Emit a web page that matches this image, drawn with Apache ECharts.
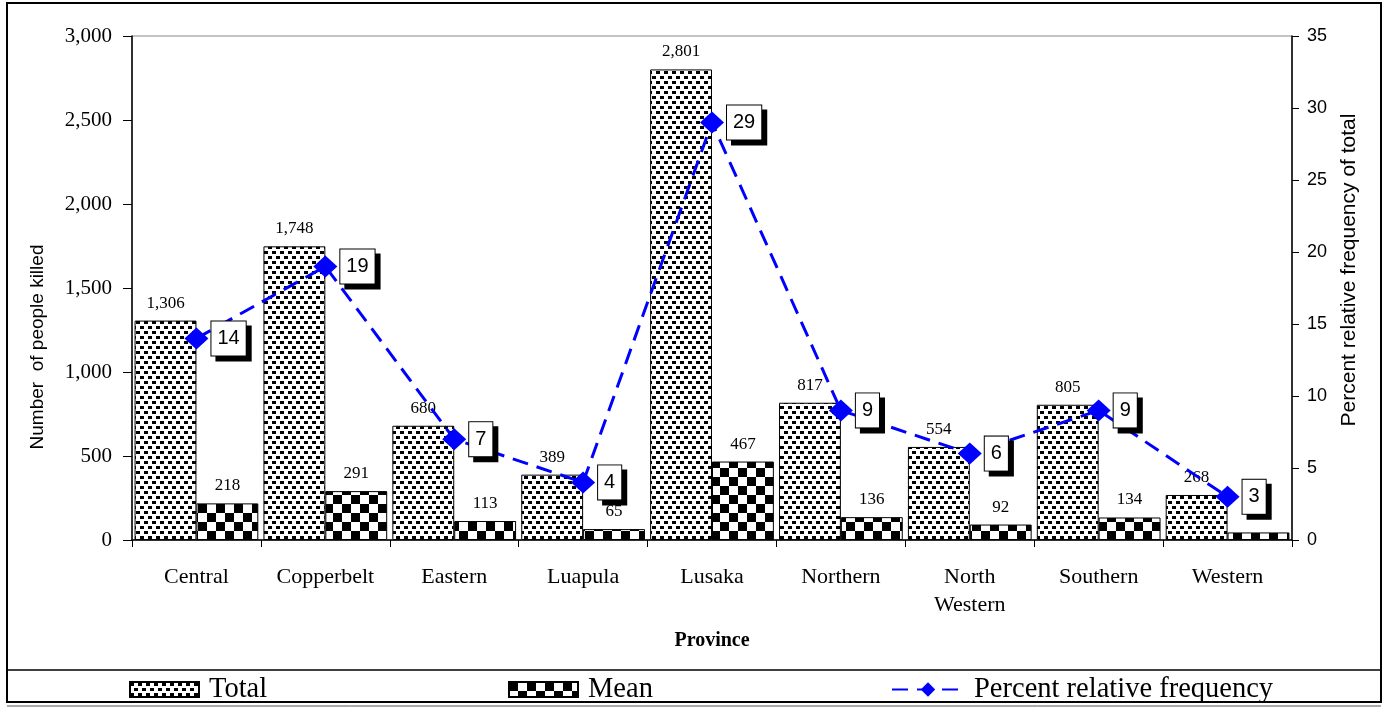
<!DOCTYPE html>
<html>
<head>
<meta charset="utf-8">
<title>People killed by province</title>
<script src="https://cdn.jsdelivr.net/npm/echarts@6/dist/echarts.min.js"></script>
<style>
  html, body { margin: 0; padding: 0; background: #fff; }
  #chart { width: 1388px; height: 708px; }
</style>
</head>
<body>
<div id="chart"></div>
<script>
// data
const provinces = ['Central', 'Copperbelt', 'Eastern', 'Luapula', 'Lusaka', 'Northern', 'North\nWestern', 'Southern', 'Western']
const totalKilled = [1306, 1748, 680, 389, 2801, 817, 554, 805, 268]
const meanKilled = [218, 291, 113, 65, 467, 136, 92, 134, 45]
const percentFreq = [14, 19, 7, 4, 29, 9, 6, 9, 3]
const leftTicks = [0, 500, 1000, 1500, 2000, 2500, 3000]
const rightTicks = [0, 5, 10, 15, 20, 25, 30, 35]

// fill patterns like the old excel ones
function dotPattern() {
  const c = document.createElement('canvas')
  c.width = 8
  c.height = 10
  const ctx = c.getContext('2d')
  ctx.fillStyle = '#fff'
  ctx.fillRect(0, 0, 8, 10)
  ctx.fillStyle = '#000'
  ctx.fillRect(0, 1, 4, 3)
  ctx.fillRect(4, 6, 4, 3)
  return c
}
function checkPattern() {
  const c = document.createElement('canvas')
  c.width = 18
  c.height = 18
  const ctx = c.getContext('2d')
  ctx.fillStyle = '#fff'
  ctx.fillRect(0, 0, 18, 18)
  ctx.fillStyle = '#000'
  ctx.fillRect(0, 0, 9, 9)
  ctx.fillRect(9, 9, 9, 9)
  return c
}

const serif = '"Liberation Serif", "Times New Roman", serif'
const sans = '"Liberation Sans", Arial, sans-serif'

const chart = echarts.init(document.getElementById('chart'))

const legendText = { fontFamily: serif, fontSize: 28.5, color: '#000', padding: [0, 0, 0, 5] }

const option = {
  animation: false,
  backgroundColor: '#fff',
  grid: {
    left: 132,
    right: 96,
    top: 36,
    bottom: 168,
    show: true,
    borderColor: '#888',
    borderWidth: 1
  },
  legend: [
    {
      data: ['Total'],
      left: 129,
      top: 675,
      padding: 0,
      icon: 'rect',
      itemWidth: 69,
      itemHeight: 15,
      textStyle: legendText
    },
    {
      data: ['Mean'],
      left: 508,
      top: 675,
      padding: 0,
      icon: 'rect',
      itemWidth: 69,
      itemHeight: 15,
      textStyle: legendText
    },
    {
      data: ['Percent relative frequency'],
      left: 891,
      top: 675,
      padding: 0,
      itemWidth: 72,
      itemHeight: 18,
      textStyle: legendText
    }
  ],
  xAxis: {
    type: 'category',
    data: provinces,
    name: 'Province',
    nameLocation: 'middle',
    nameGap: 91,
    nameTextStyle: { fontFamily: serif, fontSize: 20, fontWeight: 'bold', color: '#000' },
    axisLine: { lineStyle: { color: '#000', width: 1.5 } },
    axisTick: { show: true, length: 7, lineStyle: { color: '#000' } },
    axisLabel: {
      margin: 23,
      fontFamily: serif,
      fontSize: 22,
      lineHeight: 28,
      color: '#000',
      interval: 0
    }
  },
  yAxis: [
    {
      type: 'value',
      min: 0,
      max: 3000,
      interval: 500,
      name: 'Number  of people killed',
      nameLocation: 'middle',
      nameGap: 85,
      nameRotate: 90,
      nameTextStyle: { fontFamily: sans, fontSize: 19, color: '#000', padding: [0, 118, 0, 0] },
      axisLine: { show: true, lineStyle: { color: '#000', width: 1.5 } },
      axisTick: { show: true, length: 9, lineStyle: { color: '#000' } },
      splitLine: { show: false },
      axisLabel: {
        margin: 20,
        fontFamily: serif,
        fontSize: 21,
        color: '#000',
        formatter: function (v) {
          return leftTicks.indexOf(v) >= 0 ? v.toLocaleString('en-US') : ''
        }
      }
    },
    {
      type: 'value',
      min: 0,
      max: 35,
      interval: 5,
      position: 'right',
      name: 'Percent relative frequency of total',
      nameLocation: 'middle',
      nameGap: 47,
      nameRotate: 90,
      nameTextStyle: { fontFamily: sans, fontSize: 21, color: '#000', padding: [0, 0, 0, 36] },
      axisLine: { show: true, lineStyle: { color: '#000', width: 1.5 } },
      axisTick: { show: true, length: 7, lineStyle: { color: '#000' } },
      splitLine: { show: false },
      axisLabel: {
        margin: 15,
        fontFamily: sans,
        fontSize: 18,
        color: '#000',
        formatter: function (v) {
          return rightTicks.indexOf(v) >= 0 ? String(v) : ''
        }
      }
    }
  ],
  series: [
    {
      name: 'Total',
      type: 'bar',
      data: totalKilled,
      barGap: '0%',
      barCategoryGap: '4%',
      itemStyle: {
        color: { image: dotPattern(), repeat: 'repeat' },
        borderColor: '#000',
        borderWidth: 1
      },
      label: {
        show: true,
        position: 'top',
        distance: 9,
        fontFamily: serif,
        fontSize: 17,
        color: '#000',
        formatter: function (p) {
          return p.value.toLocaleString('en-US')
        }
      }
    },
    {
      name: 'Mean',
      type: 'bar',
      data: meanKilled,
      itemStyle: {
        color: { image: checkPattern(), repeat: 'repeat' },
        borderColor: '#000',
        borderWidth: 1
      },
      label: {
        show: true,
        position: 'top',
        distance: 9,
        fontFamily: serif,
        fontSize: 17,
        color: '#000',
        formatter: function (p) {
          return p.value.toLocaleString('en-US')
        }
      }
    },
    {
      name: 'Percent relative frequency',
      type: 'line',
      yAxisIndex: 1,
      data: percentFreq,
      symbol: 'diamond',
      symbolSize: [24, 22],
      z: 5,
      itemStyle: { color: '#0000ff' },
      lineStyle: { color: '#0000ff', width: 3, type: [16, 9] },
      label: {
        show: true,
        position: 'right',
        distance: 3,
        fontFamily: sans,
        fontSize: 20,
        color: '#000',
        backgroundColor: '#fff',
        borderColor: '#000',
        borderWidth: 1,
        padding: [7, 6],
        shadowColor: '#000',
        shadowBlur: 0,
        shadowOffsetX: 5,
        shadowOffsetY: 5
      }
    }
  ],
  graphic: [
    {
      type: 'rect',
      shape: { x: 7, y: 3, width: 1374, height: 699 },
      style: { fill: null, stroke: '#000', lineWidth: 2 },
      silent: true
    },
    {
      type: 'line',
      shape: { x1: 7, y1: 670, x2: 1381, y2: 670 },
      style: { stroke: '#000', lineWidth: 1.5 },
      silent: true
    },
    {
      type: 'line',
      shape: { x1: 7, y1: 706, x2: 1381, y2: 706 },
      style: { stroke: '#555', lineWidth: 1 },
      silent: true
    }
  ]
}

chart.setOption(option)
</script>
</body>
</html>
